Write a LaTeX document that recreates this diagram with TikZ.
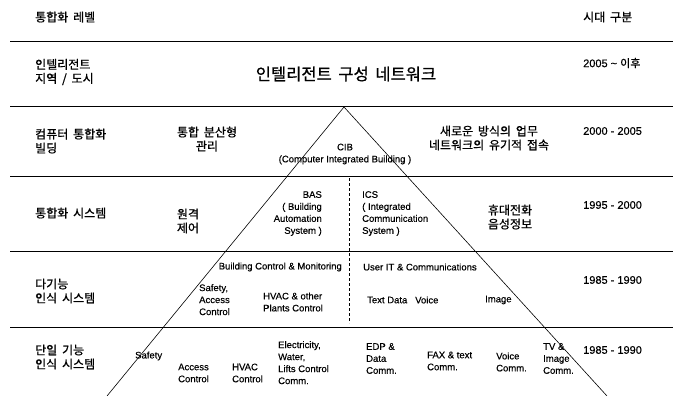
\documentclass[tikz,border=0pt]{standalone}
\usepackage{fontspec}
\setmainfont{Liberation Sans}[FakeBold=0.3]
\newfontfamily\kr[WordSpace=1.8,FakeBold=0.8]{Noto Sans CJK KR}
\begin{document}
\begin{tikzpicture}[x=1pt,y=-1pt]
        \useasboundingbox (0,0) rectangle (673,396);
        \fill[white] (0,0) rectangle (673,396);

        \begin{scope}[line width=0.9pt]
          \foreach \y in {41,106,176,251,327}
            \draw (10,\y) -- (673,\y);
        \end{scope}

        \coordinate (apex) at (344,107);
        \coordinate (baseL) at (107,396);
        \coordinate (baseR) at (607,396);
        \coordinate (dtop) at (349,178);
        \coordinate (dbot) at (349,323);
        \draw[line width=0.6pt] (baseL) -- (apex) -- (baseR);
        \draw[densely dashed,line width=0.5pt] (dtop) -- (dbot);

        \begin{scope}[every node/.style={anchor=west,align=left,inner sep=0pt,
            font=\kr\fontsize{12}{14}\selectfont}]
          \node at (35,17)  (lvl){통합화 레벨};
          \node at (35,72)  (lvl5){인텔리전트\\지역 / 도시};
          \node at (35,141) (lvl4){컴퓨터 통합화\\빌딩};
          \node at (35,213) (lvl3){통합화 시스템};
          \node at (35,291) (lvl2){다기능\\인식 시스템};
          \node at (35,357) (lvl1){단일 기능\\인식 시스템};
          \node at (583,17) (era){시대 구분};
        \end{scope}

        \begin{scope}[every node/.style={anchor=west,inner sep=0pt,
            font=\fontsize{11}{13}\selectfont}]
          \node at (583,63)  (era5){2005 \textasciitilde{} {\kr 이후}};
          \node at (583,131) (era4){2000 - 2005};
          \node at (583,205) (era3){1995 - 2000};
          \node at (583,280) (era2){1985 - 1990};
          \node at (583,350) (era1){1985 - 1990};
        \end{scope}

        \begin{scope}[every node/.style={align=center,inner sep=0pt,
            font=\kr\fontsize{12}{14}\selectfont}]
          \node[font=\kr\fontsize{16.5}{18}\selectfont] at (346,74) (net){인텔리전트 구성 네트워크};
          \node at (207,139) (mgmt){통합 분산형\\관리};
          \node at (489,138) (work){새로운 방식의 업무\\네트워크의 유기적 접속};
          \node at (188,221) (remote){원격\\제어};
          \node at (510,217) (mobile){휴대전화\\음성정보};
        \end{scope}

        \begin{scope}[every node/.style={inner sep=0pt,
            font=\fontsize{9.5}{12}\selectfont}]
          \node[align=center] at (345,154) (cib){CIB\\(Computer Integrated Building )};
          \node[anchor=north east,align=right] at (322,191) (bas){BAS\\( Building\\Automation\\System )};
          \node[anchor=north west,align=left] at (362,191) (ics){ICS\\( Integrated\\Communication\\System )};
          \node[anchor=east] at (342,267) (bcm){Building Control \& Monitoring};
          \node[anchor=west] at (363,267) (uit){User IT \& Communications};
          \node[anchor=north west,align=left] at (199,284) (safe2){Safety,\\Access\\Control};
          \node[anchor=west,align=left] at (263,302) (hvac2){HVAC \& other\\Plants Control};
          \node[anchor=west] at (367,300) (text){Text Data};
          \node[anchor=west] at (415,300) (voice){Voice};
          \node[anchor=west] at (485,300) (image){Image};
          \node[anchor=west] at (135,356) (safe1){Safety};
          \node[anchor=west,align=left] at (178,373) (acc1){Access\\Control};
          \node[anchor=west,align=left] at (232,373) (hvac1){HVAC\\Control};
          \node[anchor=north west,align=left] at (278,341) (elec){Electricity,\\Water,\\Lifts Control\\Comm.};
          \node[anchor=north west,align=left] at (366,343) (edp){EDP \&\\Data\\Comm.};
          \node[anchor=west,align=left] at (427,361) (fax){FAX \& text\\Comm.};
          \node[anchor=west,align=left] at (496,362) (vcom){Voice\\Comm.};
          \node[anchor=north west,align=left] at (543,343) (tv){TV \&\\Image\\Comm.};
        \end{scope}
      \end{tikzpicture}
\end{document}
